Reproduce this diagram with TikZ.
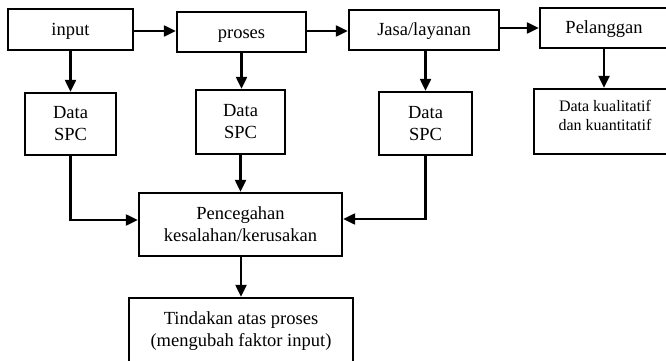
\documentclass[tikz,border=0pt]{standalone}
\usepackage{fontspec}
\setmainfont{Liberation Serif}
\usetikzlibrary{arrows.meta,calc}
\begin{document}
\begin{tikzpicture}[x=1pt,y=-1pt,
  box/.style={draw,line width=2.4pt,inner sep=0pt,align=center,font=\fontsize{18.5}{22}\selectfont},
  onebox/.style={box,text height=12pt,text depth=0pt},
  smallbox/.style={box,font=\fontsize{16}{18.5}\selectfont},
  arr/.style={line width=2.3pt,-{Triangle[length=12pt,width=11pt]}}]
\useasboundingbox (0,0) rectangle (666,361);
\clip (0,0) rectangle (666,361);
\node[onebox,minimum width=125pt,minimum height=41pt] (input) at (70.5,29.5) {input};
\node[onebox,minimum width=129pt,minimum height=40pt] (proses) at (241.5,32) {proses};
\node[onebox,minimum width=150pt,minimum height=40pt] (jasa) at (424,30) {Jasa/layanan};
\node[onebox,minimum width=128pt,minimum height=40pt] (pel) at (604,28) {Pelanggan};
\node[box,minimum width=91pt,minimum height=62pt] (spc1) at (70.5,124) {Data\\SPC};
\node[box,minimum width=89pt,minimum height=64pt] (spc2) at (240.5,122) {Data\\SPC};
\node[box,minimum width=93pt,minimum height=63pt] (spc3) at (425.5,123.5) {Data\\SPC};
\node[smallbox,minimum width=142pt,minimum height=65pt,text depth=12pt] (kual) at (605,121.5) {Data kualitatif\\dan kuantitatif};
\node[box,minimum width=203pt,minimum height=63pt] (pen) at (240.5,224.5) {Pencegahan\\kesalahan/kerusakan};
\node[box,minimum width=224pt,minimum height=66pt] (tin) at (241,331) {Tindakan atas proses\\(mengubah faktor input)};
\draw[arr] (input.east |- 0,31) -- (proses.west |- 0,31);
\draw[arr] (proses.east |- 0,31) -- (jasa.west |- 0,31);
\draw[arr] (jasa.east |- 0,28) -- (pel.west |- 0,28);
\draw[arr] (input.south) -- (input.south |- spc1.north);
\draw[arr] (proses.south) -- (proses.south |- spc2.north);
\draw[arr] (jasa.south -| spc3.north) -- (spc3.north);
\draw[arr] (pel.south) -- (pel.south |- kual.north);
\draw[arr] (spc1.south) |- (pen.west |- 0,220);
\draw[arr] (spc2.south) -- (spc2.south |- pen.north);
\draw[arr] (spc3.south) |- (pen.east |- 0,219);
\draw[arr] (pen.south -| tin.north) -- (tin.north);
\end{tikzpicture}
\end{document}
